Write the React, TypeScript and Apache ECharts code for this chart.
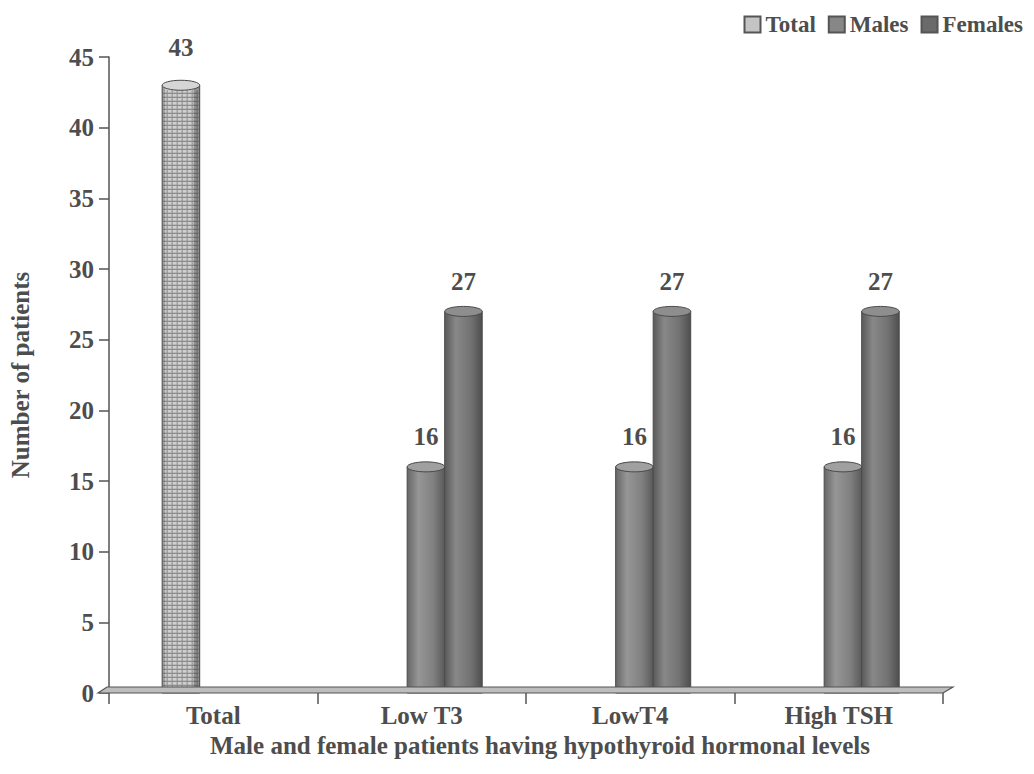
import React, { useEffect, useRef } from "react";
import * as echarts from "echarts";

// Hypothyroid hormone levels by patient group
const categories = ["Total", "Low T3", "LowT4", "High TSH"];
const totalValues: (number | null)[] = [43, null, null, null];
const maleValues: (number | null)[] = [null, 16, 16, 16];
const femaleValues: (number | null)[] = [null, 27, 27, 27];
const yTicks = { min: 0, max: 45, interval: 5 };

const FONT = "'Liberation Serif', 'Times New Roman', serif";
const TEXT = "#4d4d4d";

// Horizontal position of each series' cylinder inside a category band (fraction of band)
const OFFSETS = [-0.155, 0.02, 0.2];
const WIDTH_FRAC = 0.18;
// Distance of the value label above the cylinder top, per series
const LABEL_GAP = [38, 30, 30];

const toPairs = (arr: (number | null)[]) =>
  arr
    .map((v, i) => (v == null ? null : [i, v]))
    .filter((p) => p !== null) as number[][];

const bodyFill = (series: number) => {
  if (series === 0) return "#cfcfcf";
  const stops =
    series === 1
      ? ["#666666", "#969696", "#808080", "#5a5a5a"]
      : ["#5a5a5a", "#888888", "#727272", "#4e4e4e"];
  return new echarts.graphic.LinearGradient(0, 0, 1, 0, [
    { offset: 0, color: stops[0] },
    { offset: 0.3, color: stops[1] },
    { offset: 0.7, color: stops[2] },
    { offset: 1, color: stops[3] },
  ]);
};

const topFill = ["#d6d6d6", "#a0a0a0", "#8e8e8e"];

function renderCylinder(params: any, api: any) {
  const idx = api.value(0);
  const v = api.value(1);
  if (v == null || isNaN(v)) return;
  const [cx0, yTop] = api.coord([idx, v]);
  const [, y0] = api.coord([idx, 0]);
  const band = api.size([1, 0])[0];
  const w = band * WIDTH_FRAC;
  const s = params.seriesIndex;
  const cx = cx0 + band * OFFSETS[s];
  const left = cx - w / 2;
  const ry = 5;
  const children: any[] = [
    {
      type: "rect",
      shape: { x: left, y: yTop, width: w, height: y0 - yTop },
      style: { fill: bodyFill(s), stroke: "#4a4a4a", lineWidth: 1 },
    },
  ];
  if (s === 0) {
    // cross-hatched fill for the overall count
    for (let y = yTop + ry + 3; y < y0; y += 4) {
      children.push({
        type: "line",
        shape: { x1: left + 1, y1: y, x2: left + w - 1, y2: y },
        style: { stroke: "#7a7a7a", lineWidth: 1 },
      });
    }
    for (let x = left + 5; x < left + w - 2; x += 5) {
      children.push({
        type: "line",
        shape: { x1: x, y1: yTop + ry, x2: x, y2: y0 },
        style: { stroke: "#8a8a8a", lineWidth: 1 },
      });
    }
    children.push({
      type: "rect",
      shape: { x: left + w - 6, y: yTop, width: 6, height: y0 - yTop },
      style: { fill: "rgba(50,50,50,0.4)" },
    });
    children.push({
      type: "rect",
      shape: { x: left, y: yTop, width: 3, height: y0 - yTop },
      style: { fill: "rgba(60,60,60,0.3)" },
    });
  }
  children.push({
    type: "ellipse",
    shape: { cx, cy: yTop, rx: w / 2, ry },
    style: { fill: topFill[s], stroke: "#4a4a4a", lineWidth: 1 },
  });
  children.push({
    type: "text",
    x: cx,
    y: yTop - LABEL_GAP[s],
    style: {
      text: String(v),
      align: "center",
      verticalAlign: "middle",
      fill: TEXT,
      font: `bold 25px ${FONT}`,
    },
  });
  return { type: "group", children };
}

export default function App() {
  const ref = useRef<HTMLDivElement>(null);

  useEffect(() => {
    document.body.style.margin = "0";
    const chart = echarts.init(ref.current!, null, { renderer: "svg" });

    const gridLeft = 98;
    const gridRight = 91;
    const gridTop = 57;
    const gridBottom = 81;
    const W = 1034;
    const H = 774;
    const floorY = H - gridBottom;
    const xEnd = W - gridRight;

    chart.setOption({
      animation: false,
      backgroundColor: "#ffffff",
      grid: { left: gridLeft, right: gridRight, top: gridTop, bottom: gridBottom },
      legend: {
        data: ["Total", "Males", "Females"],
        right: 6,
        top: 8,
        icon: "rect",
        itemWidth: 16,
        itemHeight: 16,
        itemGap: 12,
        textStyle: { fontFamily: FONT, fontWeight: "bold", fontSize: 23, color: TEXT },
      },
      xAxis: {
        type: "category",
        data: categories,
        boundaryGap: true,
        axisLine: { show: false },
        axisTick: { show: true, length: 11, lineStyle: { color: "#555", width: 1.5 } },
        axisLabel: {
          margin: 10,
          fontFamily: FONT,
          fontWeight: "bold",
          fontSize: 25,
          lineHeight: 25,
          color: TEXT,
        },
      },
      yAxis: {
        type: "value",
        min: yTicks.min,
        max: yTicks.max,
        interval: yTicks.interval,
        name: "Number of patients",
        nameLocation: "middle",
        nameGap: 76,
        nameTextStyle: { fontFamily: FONT, fontWeight: "bold", fontSize: 25, color: TEXT },
        axisLine: { show: true, lineStyle: { color: "#555", width: 1.5 } },
        axisTick: { show: true, length: 10, lineStyle: { color: "#555", width: 1.5 } },
        splitLine: { show: false },
        axisLabel: {
          margin: 15,
          fontFamily: FONT,
          fontWeight: "bold",
          fontSize: 25,
          color: TEXT,
        },
      },
      graphic: [
        {
          type: "polygon",
          z: 100,
          shape: {
            points: [
              [gridLeft, floorY],
              [xEnd, floorY],
              [xEnd + 10, floorY - 6],
              [gridLeft + 9, floorY - 6],
            ],
          },
          style: { fill: "#bdbdbd", stroke: "#555", lineWidth: 1.2 },
        },
        {
          type: "text",
          x: 540,
          y: 745,
          z: 100,
          style: {
            text: "Male and female patients having hypothyroid hormonal levels",
            align: "center",
            verticalAlign: "middle",
            font: `bold 25px ${FONT}`,
            lineHeight: 25,
            fill: TEXT,
          },
        },
      ],
      series: [
        {
          name: "Total",
          type: "custom",
          renderItem: renderCylinder,
          itemStyle: { color: "#c4c4c4", borderColor: "#555", borderWidth: 1 },
          encode: { x: 0, y: 1 },
          data: toPairs(totalValues),
        },
        {
          name: "Males",
          type: "custom",
          renderItem: renderCylinder,
          itemStyle: { color: "#878787", borderColor: "#555", borderWidth: 1 },
          encode: { x: 0, y: 1 },
          data: toPairs(maleValues),
        },
        {
          name: "Females",
          type: "custom",
          renderItem: renderCylinder,
          itemStyle: { color: "#6a6a6a", borderColor: "#555", borderWidth: 1 },
          encode: { x: 0, y: 1 },
          data: toPairs(femaleValues),
        },
      ],
    });

    return () => chart.dispose();
  }, []);

  return (
    <div
      ref={ref}
      style={{ position: "absolute", left: 0, top: 0, width: 1034, height: 774 }}
    />
  );
}
